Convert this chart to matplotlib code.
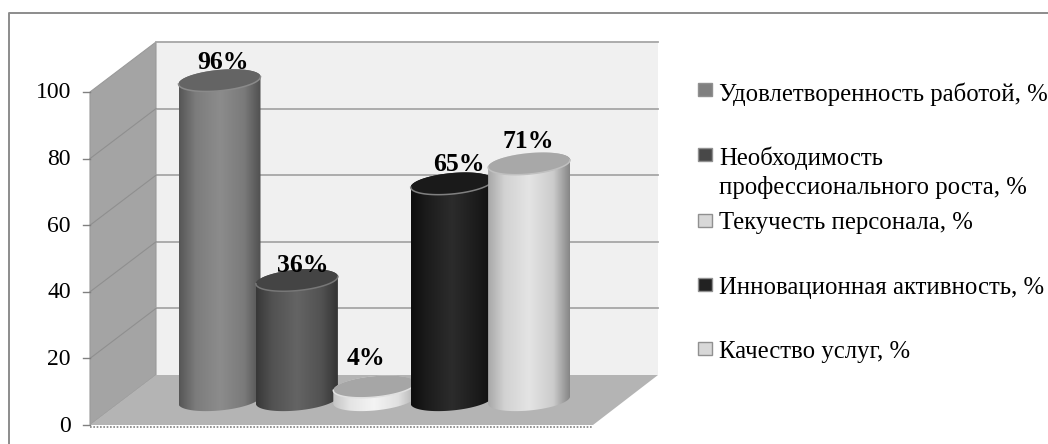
import numpy as np
import matplotlib
matplotlib.use("Agg")
import matplotlib.pyplot as plt
from matplotlib.patches import Polygon, Rectangle
from matplotlib.colors import LinearSegmentedColormap

categories = ["Удовлетворенность работой, %",
              "Необходимость\nпрофессионального роста, %",
              "Текучесть персонала, %",
              "Инновационная активность, %",
              "Качество услуг, %"]
values = [96, 36, 4, 65, 71]
labels = ["96%", "36%", "4%", "65%", "71%"]
yticks = [0, 20, 40, 60, 80, 100]
side_colors = [("#565656", "#7c7c7c", "#8c8c8c", "#7a7a7a", "#505050"),
               ("#383838", "#525252", "#646464", "#525252", "#343434"),
               ("#c4c4c4", "#e4e4e4", "#f4f4f4", "#e0e0e0", "#b4b4b4"),
               ("#0e0e0e", "#1c1c1c", "#2c2c2c", "#1c1c1c", "#0e0e0e"),
               ("#a8a8a8", "#d2d2d2", "#e4e4e4", "#cccccc", "#868686")]
top_colors = ["#646464", "#444444", "#a6a6a6", "#1a1a1a", "#a8a8a8"]
rim_colors = ["#8a8a8a", "#777777", "#e0e0e0", "#808080", "#c0c0c0"]
legend_colors = ["#808080", "#484848", "#d8d8d8", "#222222", "#d8d8d8"]
legend_box_y = [89.5, 154, 220, 284, 348]
legend_text_y = [94, 172.5, 223, 288, 352]
label_dx = [4, 6, -8, 7, -1]
label_dy = [4, 7, -6, 3, 0]

W, H = 1048, 444
plt.rcParams["font.family"] = ["Liberation Serif"]
fig = plt.figure(figsize=(W / 100, H / 100), dpi=100, facecolor="white")
ax = fig.add_axes([0, 0, 1, 1])
ax.set_xlim(0, W)
ax.set_ylim(H, 0)
ax.axis("off")

# pixel geometry of the oblique frame
PX = 3.33          # pixels per unit of value
FRONT0, BACK0 = 425, 375
XL, XB, XR, XF = 90, 156, 658, 593
MID0 = 400
C0, STEP, RX, RY, TILT = 219.5, 77.4, 41, 10.5, 0.09

def vy(v, base):
    return base - PX * v

# frame: only top and left edges are inside the picture
ax.plot([9, 9, W], [H, 13, 13], color="#8c8c8c", lw=1.4, zorder=0)
# walls
ax.add_patch(Polygon([(XB, vy(100, BACK0)), (XR, vy(100, BACK0)), (XR, BACK0), (XB, BACK0)],
                     fc="#f0f0f0", ec="none", zorder=1))
ax.add_patch(Polygon([(XL, vy(100, FRONT0)), (XB, vy(100, BACK0)), (XB, BACK0), (XL, FRONT0)],
                     fc="#a4a4a4", ec="#9a9a9a", lw=0.8, zorder=1))
ax.add_patch(Polygon([(XL, FRONT0), (XB, BACK0), (XR, BACK0), (XF, FRONT0)],
                     fc="#b4b4b4", ec="none", zorder=1))
for t in yticks:
    if t > 0:
        ax.plot([XB, XR], [vy(t, BACK0)] * 2, color="#a6a6a6", lw=1.3, zorder=2)
    if 0 < t < 100:
        ax.plot([XL, XB], [vy(t, FRONT0), vy(t, BACK0)], color="#8f8f8f", lw=0.8, zorder=2)
    ax.plot([XL - 7, XL], [vy(t, FRONT0)] * 2, color="#808080", lw=1.0, zorder=2)
    ax.text(71, vy(t, FRONT0) + 1, str(t), ha="right", va="center",
            fontsize=17, color="black")
ax.plot([XL, XF], [FRONT0 + 1.5] * 2, color="#808080", lw=1.2, ls=(0, (1, 1)), zorder=2)

# cylinders
tt = np.linspace(0, 2 * np.pi, 121)
stops = [0, 0.2, 0.5, 0.8, 1]
for i, v in enumerate(values):
    c = C0 + STEP * i
    top = vy(v, MID0)
    z = 3 + i
    a = np.linspace(np.pi, 0, 61)
    bx = c + RX * np.cos(a)
    by = MID0 + RY * np.sin(a) - TILT * RX * np.cos(a)
    a2 = np.linspace(0, np.pi, 61)
    ux = c + RX * np.cos(a2)
    uy = top - RY * np.sin(a2) - TILT * RX * np.cos(a2)
    verts = np.r_[np.c_[bx, by], np.c_[ux, uy], [[bx[0], by[0]]]]
    body = Polygon(verts, closed=True, fc="none", ec="none", zorder=z)
    ax.add_patch(body)
    cmap = LinearSegmentedColormap.from_list("c", list(zip(stops, side_colors[i])))
    img = ax.imshow(np.linspace(0, 1, 128)[None, :], cmap=cmap, aspect="auto",
                    extent=(c - RX, c + RX, MID0 + RY + 4, top - RY - 6),
                    interpolation="bilinear", zorder=z)
    img.set_clip_path(body)
    ex = c + RX * np.cos(tt)
    ey = top + RY * np.sin(tt) - TILT * RX * np.cos(tt)
    ax.add_patch(Polygon(np.c_[ex, ey], closed=True, fc=top_colors[i], ec="none", zorder=z + 0.1))
    lo = np.linspace(0, np.pi, 61)
    ax.plot(c + RX * np.cos(lo), top + RY * np.sin(lo) - TILT * RX * np.cos(lo),
            color=rim_colors[i], lw=1.1, zorder=z + 0.2)
    ax.text(c + label_dx[i], top - RY + label_dy[i], labels[i], ha="center", va="bottom",
            fontsize=18.5, fontweight="bold", color="black", zorder=20)
ax.set_xlim(0, W)
ax.set_ylim(H, 0)

# legend
for name, col, by_, ty in zip(categories, legend_colors, legend_box_y, legend_text_y):
    ax.add_patch(Rectangle((698, by_ - 6.5), 14, 13, fc=col, ec="#909090", lw=1.0, zorder=5))
    ax.text(719, ty, name, ha="left", va="center", fontsize=17.8, linespacing=1.32,
            color="black", zorder=5)

fig.savefig("out.png", dpi=100, facecolor="white")
